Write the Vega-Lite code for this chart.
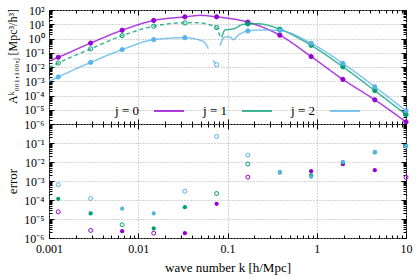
{
  "$schema": "https://vega.github.io/schema/vega-lite/v6.json",
  "padding": {"left": 6, "top": 3, "right": 4, "bottom": 2},
  "config": {
    "font": "Liberation Serif",
    "view": {"stroke": "#000000", "strokeWidth": 1},
    "axis": {
      "domain": false,
      "labelFont": "Liberation Serif",
      "labelFontSize": 12,
      "labelColor": "#000000",
      "titleFont": "Liberation Serif",
      "titleFontSize": 13,
      "titleFontWeight": "normal",
      "titleColor": "#000000",
      "tickColor": "#000000",
      "tickWidth": 1,
      "labelFlush": false,
      "labelOverlap": false,
      "labelPadding": 9
    }
  },
  "datasets": {
    "lines": [
      {"seg": "p", "j": "j = 0", "style": "solid", "k": 0.001, "A": 0.026},
      {"seg": "p", "j": "j = 0", "style": "solid", "k": 0.00127, "A": 0.048},
      {"seg": "p", "j": "j = 0", "style": "solid", "k": 0.00293, "A": 0.48},
      {"seg": "p", "j": "j = 0", "style": "solid", "k": 0.0066, "A": 3.8},
      {"seg": "p", "j": "j = 0", "style": "solid", "k": 0.0149, "A": 18.5},
      {"seg": "p", "j": "j = 0", "style": "solid", "k": 0.0333, "A": 33},
      {"seg": "p", "j": "j = 0", "style": "solid", "k": 0.05, "A": 42},
      {"seg": "p", "j": "j = 0", "style": "solid", "k": 0.0755, "A": 33},
      {"seg": "p", "j": "j = 0", "style": "solid", "k": 0.169, "A": 14},
      {"seg": "p", "j": "j = 0", "style": "solid", "k": 0.386, "A": 1.7},
      {"seg": "p", "j": "j = 0", "style": "solid", "k": 0.865, "A": 0.054},
      {"seg": "p", "j": "j = 0", "style": "solid", "k": 1.96, "A": 0.00135},
      {"seg": "p", "j": "j = 0", "style": "solid", "k": 4.47, "A": 0.00005},
      {"seg": "p", "j": "j = 0", "style": "solid", "k": 10, "A": 0.0000014},
      {"seg": "g1", "j": "j = 1", "style": "dashed", "k": 0.001, "A": 0.0093},
      {"seg": "g1", "j": "j = 1", "style": "dashed", "k": 0.00127, "A": 0.019},
      {"seg": "g1", "j": "j = 1", "style": "dashed", "k": 0.00293, "A": 0.19},
      {"seg": "g1", "j": "j = 1", "style": "dashed", "k": 0.0066, "A": 1.6},
      {"seg": "g1", "j": "j = 1", "style": "dashed", "k": 0.0149, "A": 7.3},
      {"seg": "g1", "j": "j = 1", "style": "dashed", "k": 0.0333, "A": 12.5},
      {"seg": "g1", "j": "j = 1", "style": "dashed", "k": 0.048, "A": 12.5},
      {"seg": "g1", "j": "j = 1", "style": "dashed", "k": 0.06, "A": 10},
      {"seg": "g1", "j": "j = 1", "style": "dashed", "k": 0.0755, "A": 5.9},
      {"seg": "g1", "j": "j = 1", "style": "dashed", "k": 0.082, "A": 1.5},
      {"seg": "g2", "j": "j = 1", "style": "solid", "k": 0.086, "A": 1.2},
      {"seg": "g2", "j": "j = 1", "style": "solid", "k": 0.094, "A": 4.0},
      {"seg": "g2", "j": "j = 1", "style": "solid", "k": 0.105, "A": 4.3},
      {"seg": "g2", "j": "j = 1", "style": "solid", "k": 0.12, "A": 5.0},
      {"seg": "g2", "j": "j = 1", "style": "solid", "k": 0.143, "A": 9.0},
      {"seg": "g2", "j": "j = 1", "style": "solid", "k": 0.169, "A": 10.5},
      {"seg": "g2", "j": "j = 1", "style": "solid", "k": 0.22, "A": 10.8},
      {"seg": "g2", "j": "j = 1", "style": "solid", "k": 0.386, "A": 4.5},
      {"seg": "g2", "j": "j = 1", "style": "solid", "k": 0.865, "A": 0.33},
      {"seg": "g2", "j": "j = 1", "style": "solid", "k": 1.96, "A": 0.0104},
      {"seg": "g2", "j": "j = 1", "style": "solid", "k": 4.47, "A": 0.00022},
      {"seg": "g2", "j": "j = 1", "style": "solid", "k": 10, "A": 0.0000046},
      {"seg": "b1", "j": "j = 2", "style": "solid", "k": 0.001, "A": 0.00098},
      {"seg": "b1", "j": "j = 2", "style": "solid", "k": 0.00127, "A": 0.002},
      {"seg": "b1", "j": "j = 2", "style": "solid", "k": 0.00293, "A": 0.021},
      {"seg": "b1", "j": "j = 2", "style": "solid", "k": 0.0066, "A": 0.166},
      {"seg": "b1", "j": "j = 2", "style": "solid", "k": 0.0149, "A": 0.83},
      {"seg": "b1", "j": "j = 2", "style": "solid", "k": 0.0333, "A": 1.15},
      {"seg": "b1", "j": "j = 2", "style": "solid", "k": 0.047, "A": 0.84},
      {"seg": "b1", "j": "j = 2", "style": "solid", "k": 0.056, "A": 0.49},
      {"seg": "b1", "j": "j = 2", "style": "solid", "k": 0.061, "A": 0.19},
      {"seg": "b2", "j": "j = 2", "style": "dashed", "k": 0.069, "A": 0.029},
      {"seg": "b2", "j": "j = 2", "style": "dashed", "k": 0.0755, "A": 0.0145},
      {"seg": "b3", "j": "j = 2", "style": "solid", "k": 0.0822, "A": 0.33},
      {"seg": "b3", "j": "j = 2", "style": "solid", "k": 0.0935, "A": 1.3},
      {"seg": "b3", "j": "j = 2", "style": "solid", "k": 0.1065, "A": 1.3},
      {"seg": "b3", "j": "j = 2", "style": "solid", "k": 0.1156, "A": 0.83},
      {"seg": "b3", "j": "j = 2", "style": "solid", "k": 0.132, "A": 1.7},
      {"seg": "b3", "j": "j = 2", "style": "solid", "k": 0.169, "A": 3.4},
      {"seg": "b3", "j": "j = 2", "style": "solid", "k": 0.25, "A": 4.0},
      {"seg": "b3", "j": "j = 2", "style": "solid", "k": 0.386, "A": 3.6},
      {"seg": "b3", "j": "j = 2", "style": "solid", "k": 0.865, "A": 0.46},
      {"seg": "b3", "j": "j = 2", "style": "solid", "k": 1.96, "A": 0.018},
      {"seg": "b3", "j": "j = 2", "style": "solid", "k": 4.47, "A": 0.00041},
      {"seg": "b3", "j": "j = 2", "style": "solid", "k": 10, "A": 0.0000083}
    ],
    "toppts": [
      {"j": "j = 0", "k": 0.00127, "A": 0.048, "open": false},
      {"j": "j = 0", "k": 0.00293, "A": 0.48, "open": false},
      {"j": "j = 0", "k": 0.0066, "A": 3.8, "open": false},
      {"j": "j = 0", "k": 0.0149, "A": 18.5, "open": false},
      {"j": "j = 0", "k": 0.0333, "A": 33, "open": false},
      {"j": "j = 0", "k": 0.0755, "A": 33, "open": false},
      {"j": "j = 0", "k": 0.169, "A": 14, "open": false},
      {"j": "j = 0", "k": 0.386, "A": 1.7, "open": false},
      {"j": "j = 0", "k": 0.865, "A": 0.054, "open": false},
      {"j": "j = 0", "k": 1.96, "A": 0.00135, "open": false},
      {"j": "j = 0", "k": 4.47, "A": 0.00005, "open": false},
      {"j": "j = 0", "k": 10, "A": 0.0000014, "open": false},
      {"j": "j = 1", "k": 0.00127, "A": 0.019, "open": true},
      {"j": "j = 1", "k": 0.00293, "A": 0.19, "open": true},
      {"j": "j = 1", "k": 0.0066, "A": 1.6, "open": true},
      {"j": "j = 1", "k": 0.0149, "A": 7.3, "open": true},
      {"j": "j = 1", "k": 0.0333, "A": 12.5, "open": true},
      {"j": "j = 1", "k": 0.0755, "A": 5.9, "open": true},
      {"j": "j = 1", "k": 0.169, "A": 10.5, "open": false},
      {"j": "j = 1", "k": 0.386, "A": 4.5, "open": false},
      {"j": "j = 1", "k": 0.865, "A": 0.33, "open": false},
      {"j": "j = 1", "k": 1.96, "A": 0.0104, "open": false},
      {"j": "j = 1", "k": 4.47, "A": 0.00022, "open": false},
      {"j": "j = 1", "k": 10, "A": 0.0000046, "open": false},
      {"j": "j = 2", "k": 0.00127, "A": 0.002, "open": false},
      {"j": "j = 2", "k": 0.00293, "A": 0.021, "open": false},
      {"j": "j = 2", "k": 0.0066, "A": 0.166, "open": false},
      {"j": "j = 2", "k": 0.0149, "A": 0.83, "open": false},
      {"j": "j = 2", "k": 0.0333, "A": 1.15, "open": false},
      {"j": "j = 2", "k": 0.0755, "A": 0.0145, "open": true},
      {"j": "j = 2", "k": 0.169, "A": 3.4, "open": false},
      {"j": "j = 2", "k": 0.386, "A": 3.6, "open": false},
      {"j": "j = 2", "k": 0.865, "A": 0.46, "open": false},
      {"j": "j = 2", "k": 1.96, "A": 0.018, "open": false},
      {"j": "j = 2", "k": 4.47, "A": 0.00041, "open": false},
      {"j": "j = 2", "k": 10, "A": 0.0000083, "open": false}
    ],
    "errpts": [
      {"j": "j = 0", "k": 0.00127, "e": 0.000024, "open": true},
      {"j": "j = 0", "k": 0.00293, "e": 0.0000025, "open": true},
      {"j": "j = 0", "k": 0.0066, "e": 0.0000023, "open": false},
      {"j": "j = 0", "k": 0.0149, "e": 0.0000018, "open": true},
      {"j": "j = 0", "k": 0.0333, "e": 0.0000018, "open": false},
      {"j": "j = 0", "k": 0.0755, "e": 0.000063, "open": false},
      {"j": "j = 0", "k": 0.169, "e": 0.0016, "open": true},
      {"j": "j = 0", "k": 0.865, "e": 0.0033, "open": false},
      {"j": "j = 0", "k": 1.96, "e": 0.0077, "open": false},
      {"j": "j = 0", "k": 4.47, "e": 0.0037, "open": false},
      {"j": "j = 0", "k": 10, "e": 0.00155, "open": true},
      {"j": "j = 1", "k": 0.00127, "e": 0.000115, "open": false},
      {"j": "j = 1", "k": 0.00293, "e": 0.0000195, "open": false},
      {"j": "j = 1", "k": 0.0066, "e": 0.000005, "open": true},
      {"j": "j = 1", "k": 0.0149, "e": 0.0000032, "open": false},
      {"j": "j = 1", "k": 0.0333, "e": 0.000042, "open": false},
      {"j": "j = 1", "k": 0.0755, "e": 0.00022, "open": true},
      {"j": "j = 1", "k": 0.169, "e": 0.0079, "open": true},
      {"j": "j = 1", "k": 0.386, "e": 0.0028, "open": false},
      {"j": "j = 1", "k": 0.865, "e": 0.002, "open": false},
      {"j": "j = 1", "k": 1.96, "e": 0.0095, "open": false},
      {"j": "j = 1", "k": 4.47, "e": 0.032, "open": false},
      {"j": "j = 1", "k": 10, "e": 0.068, "open": false},
      {"j": "j = 2", "k": 0.00127, "e": 0.00064, "open": true},
      {"j": "j = 2", "k": 0.00293, "e": 0.00012, "open": true},
      {"j": "j = 2", "k": 0.0066, "e": 0.000035, "open": false},
      {"j": "j = 2", "k": 0.0149, "e": 0.0000195, "open": false},
      {"j": "j = 2", "k": 0.0333, "e": 0.00029, "open": true},
      {"j": "j = 2", "k": 0.0755, "e": 0.22, "open": true},
      {"j": "j = 2", "k": 0.169, "e": 0.023, "open": true},
      {"j": "j = 2", "k": 0.386, "e": 0.003, "open": false},
      {"j": "j = 2", "k": 0.865, "e": 0.00166, "open": false},
      {"j": "j = 2", "k": 1.96, "e": 0.0102, "open": false},
      {"j": "j = 2", "k": 4.47, "e": 0.034, "open": false},
      {"j": "j = 2", "k": 10, "e": 0.069, "open": false}
    ]
  },
  "spacing": 0,
  "bounds": "flush",
  "vconcat": [
    {
      "width": 357,
      "height": 114,
      "layer": [
        {
          "data": {"name": "lines"},
          "mark": {"type": "line", "interpolate": "monotone", "strokeWidth": 1.5, "opacity": 0.75, "clip": true},
          "encoding": {
            "x": {"field": "k", "type": "quantitative", "scale": {"type": "log", "domain": [0.001, 10]},
              "axis": {"orient": "bottom", "labels": false, "title": null, "grid": true, "gridColor": "#a8a8a8", "gridDash": [1, 2],
                "gridOpacity": {"condition": {"test": "abs(log(datum.value)/LN10 - round(log(datum.value)/LN10)) < 0.000001", "value": 1}, "value": 0},
                "tickSize": {"condition": {"test": "abs(log(datum.value)/LN10 - round(log(datum.value)/LN10)) < 0.000001", "value": -5}, "value": -3},
                "values": [0.001,0.002,0.003,0.004,0.005,0.006,0.007,0.008,0.009,0.01,0.02,0.03,0.04,0.05,0.06,0.07,0.08,0.09,0.1,0.2,0.3,0.4,0.5,0.6,0.7,0.8,0.9,1,2,3,4,5,6,7,8,9,10]}},
            "y": {"field": "A", "type": "quantitative", "scale": {"type": "log", "domain": [0.000001, 100]},
              "axis": {"orient": "left", "title": "Aᵏ₀₀₁,₁₀₀,ⱼ [Mpc³/h³]", "titleFontSize": 12, "titleY": 46, "titlePadding": 4, "grid": true, "gridColor": "#a8a8a8", "gridDash": [1, 2],
                "gridOpacity": {"condition": {"test": "abs(log(datum.value)/LN10 - round(log(datum.value)/LN10)) < 0.000001", "value": 1}, "value": 0},
                "tickSize": {"condition": {"test": "abs(log(datum.value)/LN10 - round(log(datum.value)/LN10)) < 0.000001", "value": -5}, "value": -3},
                "labelPadding": 10,
                "labelExpr": "abs(log(datum.value)/LN10 - round(log(datum.value)/LN10)) < 0.000001 ? '10' + (datum.value < 1 ? '⁻' : '') + ['⁰','¹','²','³','⁴','⁵','⁶','⁷','⁸','⁹'][abs(round(log(datum.value)/LN10))] : ''",
                "values": [0.000001,0.000002,0.000003,0.000004,0.000005,0.000006,0.000007,0.000008,0.000009,0.00001,0.00002,0.00003,0.00004,0.00005,0.00006,0.00007,0.00008,0.00009,0.0001,0.0002,0.0003,0.0004,0.0005,0.0006,0.0007,0.0008,0.0009,0.001,0.002,0.003,0.004,0.005,0.006,0.007,0.008,0.009,0.01,0.02,0.03,0.04,0.05,0.06,0.07,0.08,0.09,0.1,0.2,0.3,0.4,0.5,0.6,0.7,0.8,0.9,1,2,3,4,5,6,7,8,9,10,20,30,40,50,60,70,80,90,100]}},
            "color": {"field": "j", "type": "nominal", "scale": {"domain": ["j = 0", "j = 1", "j = 2"], "range": ["#9400d3", "#009e73", "#56b4e9"]},
              "legend": {"orient": "none", "legendX": 104, "legendY": 85, "direction": "horizontal", "title": null, "padding": 0,
                "symbolType": "stroke", "symbolSize": 900, "symbolStrokeWidth": 2, "symbolOpacity": 0.75,
                "labelFont": "Liberation Serif", "labelFontSize": 13, "labelColor": "#000000", "labelAlign": "right", "labelOffset": -46, "columnPadding": 15}},
            "strokeDash": {"field": "style", "type": "nominal", "scale": {"domain": ["solid", "dashed"], "range": [[1, 0], [4, 3]]}, "legend": null},
            "detail": {"field": "seg"}
          }
        },
        {
          "data": {"name": "toppts"},
          "mark": {"type": "point", "filled": true, "size": 18, "strokeWidth": 1, "opacity": 1},
          "encoding": {
            "x": {"field": "k", "type": "quantitative",
              "axis": {"orient": "top", "labels": false, "title": null, "grid": false,
                "tickSize": {"condition": {"test": "abs(log(datum.value)/LN10 - round(log(datum.value)/LN10)) < 0.000001", "value": -5}, "value": -3},
                "values": [0.001,0.002,0.003,0.004,0.005,0.006,0.007,0.008,0.009,0.01,0.02,0.03,0.04,0.05,0.06,0.07,0.08,0.09,0.1,0.2,0.3,0.4,0.5,0.6,0.7,0.8,0.9,1,2,3,4,5,6,7,8,9,10]}},
            "y": {"field": "A", "type": "quantitative",
              "axis": {"orient": "right", "labels": false, "title": null, "grid": false,
                "tickSize": {"condition": {"test": "abs(log(datum.value)/LN10 - round(log(datum.value)/LN10)) < 0.000001", "value": -5}, "value": -3},
                "values": [0.000001,0.000002,0.000003,0.000004,0.000005,0.000006,0.000007,0.000008,0.000009,0.00001,0.00002,0.00003,0.00004,0.00005,0.00006,0.00007,0.00008,0.00009,0.0001,0.0002,0.0003,0.0004,0.0005,0.0006,0.0007,0.0008,0.0009,0.001,0.002,0.003,0.004,0.005,0.006,0.007,0.008,0.009,0.01,0.02,0.03,0.04,0.05,0.06,0.07,0.08,0.09,0.1,0.2,0.3,0.4,0.5,0.6,0.7,0.8,0.9,1,2,3,4,5,6,7,8,9,10,20,30,40,50,60,70,80,90,100]}},
            "color": {"field": "j", "type": "nominal", "legend": null},
            "stroke": {"field": "j", "type": "nominal", "scale": {"domain": ["j = 0", "j = 1", "j = 2"], "range": ["#9400d3", "#009e73", "#56b4e9"]}, "legend": null},
            "fillOpacity": {"condition": {"test": "datum.open", "value": 0}, "value": 1}
          }
        }
      ],
      "resolve": {"axis": {"x": "independent", "y": "independent"}}
    },
    {
      "width": 357,
      "height": 114,
      "layer": [
        {
          "mark": {"type": "rule", "color": "#555555", "strokeWidth": 1},
          "encoding": {"y": {"datum": 0.01, "type": "quantitative", "axis": null}}
        },
        {
          "data": {"name": "errpts"},
          "transform": [{"filter": "!datum.open"}],
          "mark": {"type": "point", "filled": true, "size": 18, "opacity": 1},
          "encoding": {
            "x": {"field": "k", "type": "quantitative", "scale": {"type": "log", "domain": [0.001, 10]},
              "axis": {"orient": "bottom", "title": "wave number k [h/Mpc]", "titlePadding": 5, "grid": true, "gridColor": "#a8a8a8", "gridDash": [1, 2],
                "gridOpacity": {"condition": {"test": "abs(log(datum.value)/LN10 - round(log(datum.value)/LN10)) < 0.000001", "value": 1}, "value": 0},
                "tickSize": {"condition": {"test": "abs(log(datum.value)/LN10 - round(log(datum.value)/LN10)) < 0.000001", "value": -5}, "value": -3},
                "labelPadding": 10,
                "labelExpr": "abs(log(datum.value)/LN10 - round(log(datum.value)/LN10)) < 0.000001 ? format(datum.value, '~g') : ''",
                "values": [0.001,0.002,0.003,0.004,0.005,0.006,0.007,0.008,0.009,0.01,0.02,0.03,0.04,0.05,0.06,0.07,0.08,0.09,0.1,0.2,0.3,0.4,0.5,0.6,0.7,0.8,0.9,1,2,3,4,5,6,7,8,9,10]}},
            "y": {"field": "e", "type": "quantitative", "scale": {"type": "log", "domain": [0.000001, 1]},
              "axis": {"orient": "left", "title": "error", "titlePadding": 4, "grid": true, "gridColor": "#a8a8a8", "gridDash": [1, 2],
                "gridOpacity": {"condition": {"test": "abs(log(datum.value)/LN10 - round(log(datum.value)/LN10)) < 0.000001", "value": 1}, "value": 0},
                "tickSize": {"condition": {"test": "abs(log(datum.value)/LN10 - round(log(datum.value)/LN10)) < 0.000001", "value": -5}, "value": -3},
                "labelPadding": 10,
                "labelExpr": "abs(log(datum.value)/LN10 - round(log(datum.value)/LN10)) < 0.000001 && datum.value < 0.5 ? '10' + (datum.value < 1 ? '⁻' : '') + ['⁰','¹','²','³','⁴','⁵','⁶','⁷','⁸','⁹'][abs(round(log(datum.value)/LN10))] : ''",
                "values": [0.000001,0.000002,0.000003,0.000004,0.000005,0.000006,0.000007,0.000008,0.000009,0.00001,0.00002,0.00003,0.00004,0.00005,0.00006,0.00007,0.00008,0.00009,0.0001,0.0002,0.0003,0.0004,0.0005,0.0006,0.0007,0.0008,0.0009,0.001,0.002,0.003,0.004,0.005,0.006,0.007,0.008,0.009,0.01,0.02,0.03,0.04,0.05,0.06,0.07,0.08,0.09,0.1,0.2,0.3,0.4,0.5,0.6,0.7,0.8,0.9,1]}},
            "color": {"field": "j", "type": "nominal", "legend": null}
          }
        },
        {
          "data": {"name": "errpts"},
          "transform": [{"filter": "datum.open"}],
          "mark": {"type": "point", "filled": false, "size": 16, "strokeWidth": 1, "opacity": 1},
          "encoding": {
            "x": {"field": "k", "type": "quantitative",
              "axis": {"orient": "top", "labels": false, "title": null, "grid": false,
                "tickSize": {"condition": {"test": "abs(log(datum.value)/LN10 - round(log(datum.value)/LN10)) < 0.000001", "value": -5}, "value": -3},
                "values": [0.001,0.002,0.003,0.004,0.005,0.006,0.007,0.008,0.009,0.01,0.02,0.03,0.04,0.05,0.06,0.07,0.08,0.09,0.1,0.2,0.3,0.4,0.5,0.6,0.7,0.8,0.9,1,2,3,4,5,6,7,8,9,10]}},
            "y": {"field": "e", "type": "quantitative",
              "axis": {"orient": "right", "labels": false, "title": null, "grid": false,
                "tickSize": {"condition": {"test": "abs(log(datum.value)/LN10 - round(log(datum.value)/LN10)) < 0.000001", "value": -5}, "value": -3},
                "values": [0.000001,0.000002,0.000003,0.000004,0.000005,0.000006,0.000007,0.000008,0.000009,0.00001,0.00002,0.00003,0.00004,0.00005,0.00006,0.00007,0.00008,0.00009,0.0001,0.0002,0.0003,0.0004,0.0005,0.0006,0.0007,0.0008,0.0009,0.001,0.002,0.003,0.004,0.005,0.006,0.007,0.008,0.009,0.01,0.02,0.03,0.04,0.05,0.06,0.07,0.08,0.09,0.1,0.2,0.3,0.4,0.5,0.6,0.7,0.8,0.9,1]}},
            "color": {"field": "j", "type": "nominal", "legend": null}
          }
        }
      ],
      "resolve": {"axis": {"x": "independent", "y": "independent"}}
    }
  ]
}
